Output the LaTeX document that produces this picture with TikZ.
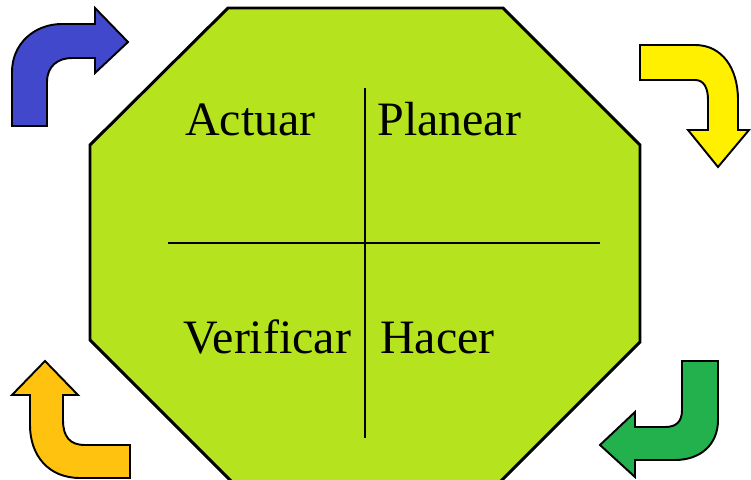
\documentclass[tikz,border=0pt]{standalone}
\usepackage{fontspec}
\setmainfont{Liberation Serif}
\definecolor{octgreen}{RGB}{181,228,30}
\definecolor{arrblue}{RGB}{66,72,204}
\definecolor{arryellow}{RGB}{255,240,0}
\definecolor{arrorange}{RGB}{255,194,14}
\definecolor{arrgreen}{RGB}{34,177,76}

\begin{document}
\begin{tikzpicture}[x=0.02cm,y=-0.02cm,
  oct/.style={fill=octgreen,draw=black,line width=1.7pt,line join=miter},
  cross/.style={draw=black,line width=1.1pt},
  bent/.style={draw=black,line width=1.1pt,line join=miter},
  word/.style={font=\fontsize{27.3}{30}\selectfont,inner sep=0pt,anchor=base west}]
  \useasboundingbox (0,0) rectangle (751,480);
  \clip (0,0) rectangle (751,480);
  % the octagon with its four quarters
  \draw[oct] (228,8) -- (503,8) -- (640,145) -- (640,342) -- (500,482) -- (232,482) -- (90,340) -- (90,145) -- cycle;
  \coordinate (vtop) at (365,88);
  \coordinate (vbot) at (365,438);
  \coordinate (hleft) at (168,243);
  \coordinate (hright) at (600,243);
  \draw[cross] (vtop) -- (vbot);
  \draw[cross] (hleft) -- (hright);
  \node[word] (act) at (185,135) {Actuar};
  \node[word] (plan) at (377,135) {Planear};
  \node[word] (ver) at (183,353) {Verificar};
  \node[word] (hac) at (380,353) {Hacer};
  % bent arrows round the corners
  \draw[bent,fill=arrblue] (12,126) -- (12,72) .. controls (12,44) and (34,24) .. (62,24) -- (95,24) -- (95,8) -- (128,42) -- (95,73) -- (95,58) -- (72,58) .. controls (58,58) and (47,66) .. (47,82) -- (47,126) -- cycle;
  \draw[bent,fill=arryellow] (640,45) -- (695,45) .. controls (722,45) and (738,68) .. (738,100) -- (738,130) -- (749,130) -- (718,167) -- (688,130) -- (708,130) -- (708,100) .. controls (708,88) and (704,80) .. (695,80) -- (640,80) -- cycle;
  \draw[bent,fill=arrgreen] (682,361) -- (718,361) -- (718,420) .. controls (718,445) and (700,460) .. (675,460) -- (635,460) -- (635,477) -- (600,445) -- (635,412) -- (635,427) -- (665,427) .. controls (676,427) and (682,422) .. (682,410) -- cycle;
  \draw[bent,fill=arrorange] (45,361) -- (78,395) -- (63,395) -- (63,420) .. controls (63,437) and (70,445) .. (85,445) -- (130,445) -- (130,478) -- (80,478) .. controls (48,478) and (30,455) .. (30,425) -- (30,395) -- (12,395) -- cycle;
\end{tikzpicture}
\end{document}
